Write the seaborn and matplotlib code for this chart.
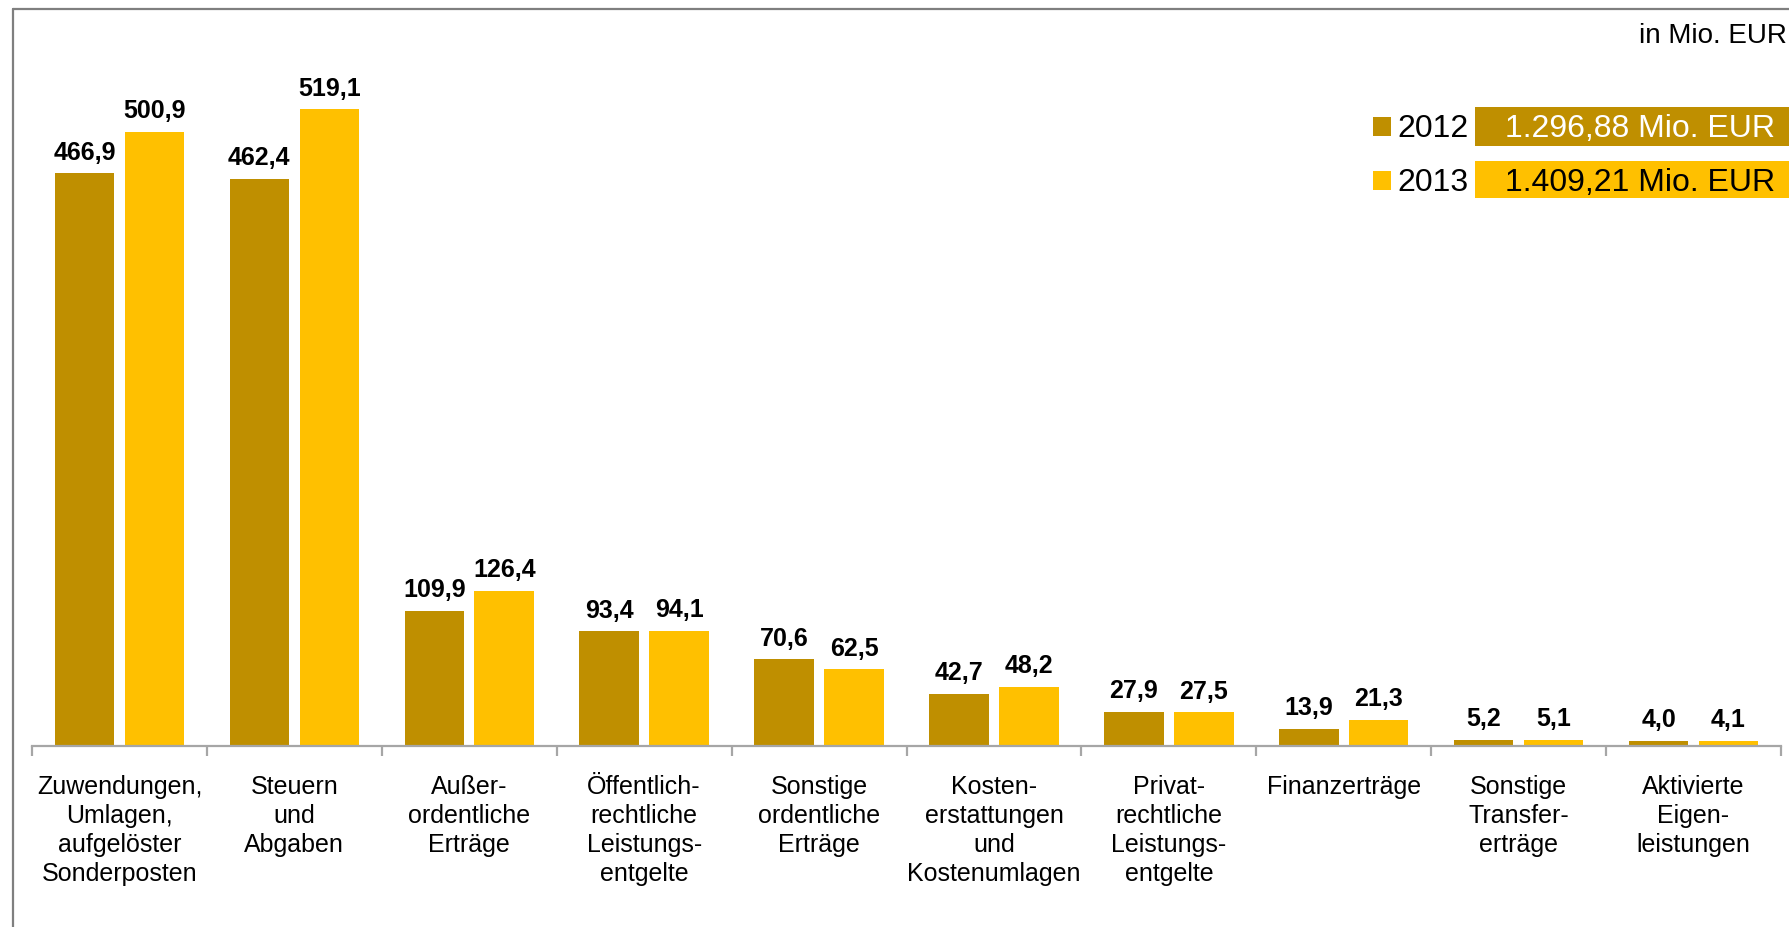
import matplotlib
matplotlib.use("Agg")
import matplotlib.pyplot as plt
from matplotlib.patches import Rectangle
from matplotlib.lines import Line2D
import seaborn as sns
import pandas as pd
import numpy as np

categories = [
    "Zuwendungen,\nUmlagen,\naufgelöster\nSonderposten",
    "Steuern\nund\nAbgaben",
    "Außer-\nordentliche\nErträge",
    "Öffentlich-\nrechtliche\nLeistungs-\nentgelte",
    "Sonstige\nordentliche\nErträge",
    "Kosten-\nerstattungen\nund\nKostenumlagen",
    "Privat-\nrechtliche\nLeistungs-\nentgelte",
    "Finanzerträge",
    "Sonstige\nTransfer-\nerträge",
    "Aktivierte\nEigen-\nleistungen",
]
values_2012 = [466.9, 462.4, 109.9, 93.4, 70.6, 42.7, 27.9, 13.9, 5.2, 4.0]
values_2013 = [500.9, 519.1, 126.4, 94.1, 62.5, 48.2, 27.5, 21.3, 5.1, 4.1]
years = ["2012", "2013"]
totals = ["1.296,88 Mio. EUR", "1.409,21 Mio. EUR"]
unit_label = "in Mio. EUR"

colors = {"2012": "#BF8F00", "2013": "#FFC000"}

df = pd.DataFrame({
    "Kategorie": categories * 2,
    "Jahr": ["2012"] * len(categories) + ["2013"] * len(categories),
    "Wert": values_2012 + values_2013,
})

sns.set_theme(style="white")
plt.rcParams["font.family"] = ["Liberation Sans", "DejaVu Sans"]
plt.rcParams["text.color"] = "black"
plt.rcParams["xtick.color"] = "black"

W, H = 1790, 928
fig = plt.figure(figsize=(W / 100, H / 100), dpi=100)
ax = fig.add_axes([32 / W, 1 - 747 / H, (1781 - 32) / W, (747 - 11) / H])

sns.barplot(data=df, x="Kategorie", y="Wert", hue="Jahr", palette=colors,
            width=0.8, gap=0.15, ax=ax, legend=False, errorbar=None,
            saturation=1, linewidth=0)

ax.set_ylim(0, 600)
ax.set_xlim(-0.5, len(categories) - 0.5)
ax.set_xlabel("")
ax.set_ylabel("")
ax.set_yticks([])
for s in ["top", "right", "left"]:
    ax.spines[s].set_visible(False)
ax.spines["bottom"].set_color("#A6A6A6")
ax.spines["bottom"].set_linewidth(1.6)

ax.set_xticks(range(len(categories)))
ax.set_xticklabels(categories, fontsize=18, linespacing=1.27, ha="center", va="top",
                   color="black")
ax.tick_params(axis="x", which="both", bottom=True)
ax.tick_params(axis="x", which="major", length=0, pad=20, labelcolor="black")
ax.set_xticks(np.arange(-0.5, len(categories), 1.0), minor=True)
ax.tick_params(axis="x", which="minor", length=7, width=1.6, color="#A6A6A6", direction="out")

def fmt(v):
    return f"{v:.1f}".replace(".", ",")

for cont in ax.containers:
    ax.bar_label(cont, labels=[fmt(b.get_height()) for b in cont],
                 fontsize=18, fontweight="bold", padding=7, color="black")

# chart frame lines (top and left)
fig.add_artist(Line2D([13 / W, 1], [1 - 10 / H, 1 - 10 / H], color="#7F7F7F", lw=1.6,
                      transform=fig.transFigure))
fig.add_artist(Line2D([13 / W, 13 / W], [1 - 10 / H, 0], color="#7F7F7F", lw=1.6,
                      transform=fig.transFigure))

fig.text(1787 / W, 1 - 43 / H, unit_label, fontsize=20, ha="right", va="baseline")

# legend with totals
rows = [(118, 137, 108, 147), (172, 191, 162, 199)]
for (sq_top, sq_bot, box_top, box_bot), yr, tot in zip(rows, years, totals):
    fig.add_artist(Rectangle((1373 / W, 1 - sq_bot / H), 18 / W, (sq_bot - sq_top) / H,
                             transform=fig.transFigure, color=colors[yr], lw=0))
    fig.text(1397 / W, 1 - sq_bot / H, yr, fontsize=23, ha="left", va="baseline")
    fig.add_artist(Rectangle((1475 / W, 1 - box_bot / H), (W - 1475) / W, (box_bot - box_top) / H,
                             transform=fig.transFigure, color=colors[yr], lw=0))
    fig.text(1775 / W, 1 - sq_bot / H, tot, fontsize=23, ha="right", va="baseline",
             color="white" if yr == "2012" else "black")

fig.savefig("out.png", dpi=100)
